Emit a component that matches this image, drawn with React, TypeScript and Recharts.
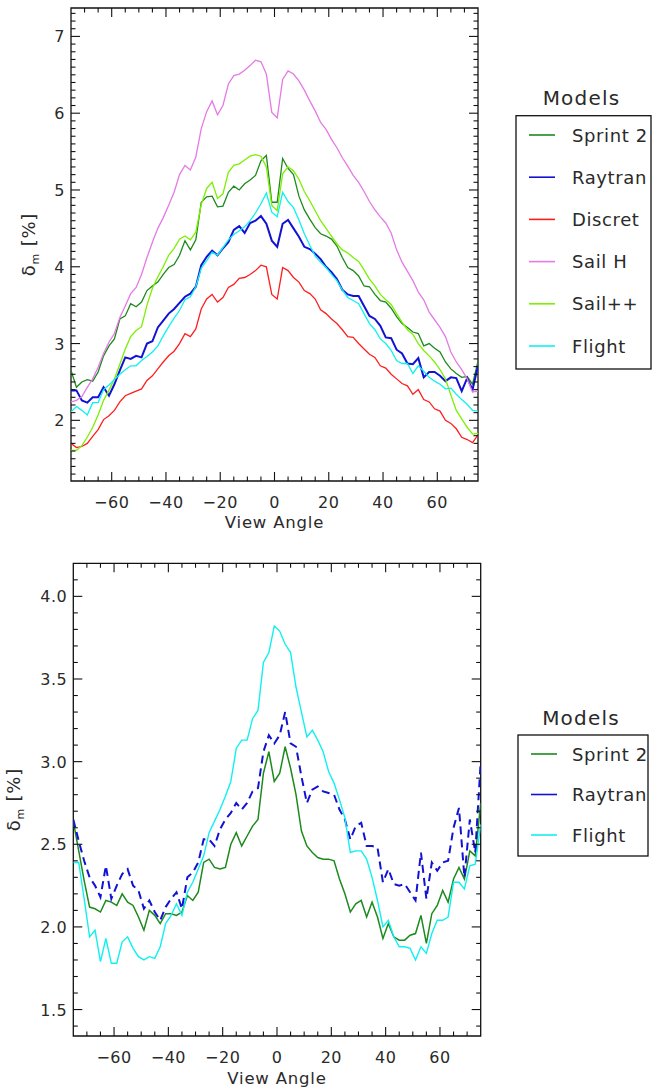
import React from 'react';
import { LineChart, Line, XAxis, YAxis, ReferenceArea, Legend } from 'recharts';

// View angles (degrees) shared by every model run
const angles = [
  -75, -73, -71, -69, -67, -65, -63, -61, -59, -57,
  -55, -53, -51, -49, -47, -45, -43, -41, -39, -37,
  -35, -33, -31, -29, -27, -25, -23, -21, -19, -17,
  -15, -13, -11, -9, -7, -5, -3, -1, 1, 3,
  5, 7, 9, 11, 13, 15, 17, 19, 21, 23,
  25, 27, 29, 31, 33, 35, 37, 39, 41, 43,
  45, 47, 49, 51, 53, 55, 57, 59, 61, 63,
  65, 67, 69, 71, 73, 75,
];

// ---- Upper panel: delta_m [%] per model ----
const sprintTop = [
  2.65, 2.43, 2.50, 2.53, 2.51, 2.63, 2.84, 2.97, 3.06, 3.32,
  3.36, 3.52, 3.48, 3.54, 3.69, 3.75, 3.80, 3.90, 3.99, 4.03,
  4.15, 4.34, 4.22, 4.35, 4.84, 4.91, 4.92, 4.78, 4.79, 4.97,
  5.05, 5.00, 5.08, 5.13, 5.19, 5.38, 5.45, 4.84, 4.84, 5.41,
  5.28, 5.20, 4.92, 4.74, 4.62, 4.51, 4.43, 4.40, 4.36, 4.27,
  4.12, 3.99, 3.95, 3.88, 3.75, 3.74, 3.64, 3.56, 3.54, 3.46,
  3.35, 3.26, 3.21, 3.15, 3.13, 2.97, 3.00, 2.94, 2.89, 2.76,
  2.67, 2.61, 2.56, 2.57, 2.47, 2.77,
];
const raytranTop = [
  2.39, 2.39, 2.26, 2.23, 2.30, 2.30, 2.43, 2.32, 2.47, 2.65,
  2.82, 2.80, 2.84, 2.82, 3.00, 3.03, 3.21, 3.30, 3.39, 3.45,
  3.53, 3.61, 3.65, 3.74, 4.02, 4.13, 4.21, 4.15, 4.24, 4.32,
  4.48, 4.53, 4.44, 4.57, 4.60, 4.66, 4.56, 4.34, 4.26, 4.56,
  4.61, 4.50, 4.39, 4.26, 4.23, 4.17, 4.10, 4.00, 3.93, 3.84,
  3.70, 3.64, 3.62, 3.62, 3.49, 3.36, 3.32, 3.23, 3.08, 3.07,
  2.92, 2.87, 2.74, 2.73, 2.81, 2.56, 2.63, 2.63, 2.58, 2.51,
  2.56, 2.55, 2.38, 2.55, 2.40, 2.71,
];
const discretTop = [
  1.70, 1.645, 1.66, 1.70, 1.79, 1.88, 2.01, 2.06, 2.13, 2.24,
  2.32, 2.35, 2.38, 2.41, 2.52, 2.58, 2.67, 2.76, 2.84, 2.90,
  3.00, 3.13, 3.09, 3.19, 3.45, 3.58, 3.64, 3.54, 3.60, 3.73,
  3.77, 3.85, 3.86, 3.90, 3.95, 4.02, 4.00, 3.64, 3.58, 3.99,
  3.95, 3.86, 3.80, 3.69, 3.65, 3.58, 3.44, 3.39, 3.32, 3.26,
  3.18, 3.09, 3.08, 3.00, 2.93, 2.86, 2.82, 2.71, 2.68, 2.60,
  2.54, 2.48, 2.45, 2.34, 2.40, 2.27, 2.24, 2.15, 2.12, 2.00,
  1.96, 1.89, 1.78, 1.75, 1.71, 1.81,
];
const sailHTop = [
  2.24, 2.26, 2.31, 2.43, 2.54, 2.69, 2.87, 3.02, 3.13, 3.34,
  3.49, 3.65, 3.73, 3.90, 4.12, 4.32, 4.50, 4.64, 4.80, 4.97,
  5.20, 5.32, 5.26, 5.43, 5.80, 6.02, 6.16, 5.98, 6.10, 6.38,
  6.49, 6.51, 6.56, 6.62, 6.69, 6.67, 6.51, 6.01, 5.94, 6.44,
  6.55, 6.51, 6.42, 6.30, 6.16, 6.03, 5.88, 5.79, 5.66, 5.55,
  5.42, 5.31, 5.19, 5.10, 4.98, 4.85, 4.74, 4.65, 4.57, 4.44,
  4.22, 4.06, 3.94, 3.82, 3.67, 3.57, 3.41, 3.31, 3.21, 3.09,
  2.89, 2.76, 2.66, 2.54, 2.37, 2.38,
];
const sailPPTop = [
  1.61, 1.61, 1.67, 1.78, 1.91, 2.07, 2.26, 2.39, 2.54, 2.73,
  2.93, 3.09, 3.17, 3.22, 3.50, 3.72, 3.87, 4.00, 4.15, 4.24,
  4.36, 4.40, 4.35, 4.45, 4.81, 5.02, 5.10, 4.89, 4.95, 5.23,
  5.32, 5.34, 5.39, 5.44, 5.46, 5.44, 5.30, 4.80, 4.73, 5.21,
  5.30, 5.25, 5.14, 4.98, 4.86, 4.73, 4.60, 4.50, 4.40, 4.30,
  4.22, 4.18, 4.12, 4.07, 3.96, 3.84, 3.75, 3.64, 3.57, 3.51,
  3.39, 3.28, 3.18, 3.12, 3.00, 2.91, 2.84, 2.76, 2.66, 2.54,
  2.33, 2.13, 2.02, 1.91, 1.82, 1.83,
];
const flightTop = [
  2.11, 2.18, 2.13, 2.07, 2.23, 2.23, 2.40, 2.46, 2.53, 2.60,
  2.66, 2.71, 2.71, 2.78, 2.83, 2.89, 2.97, 3.10, 3.22, 3.33,
  3.43, 3.57, 3.61, 3.74, 3.98, 4.08, 4.19, 4.15, 4.25, 4.35,
  4.42, 4.47, 4.52, 4.60, 4.70, 4.82, 4.96, 4.71, 4.65, 4.97,
  4.85, 4.77, 4.61, 4.43, 4.28, 4.14, 4.06, 3.99, 3.90, 3.82,
  3.70, 3.60, 3.56, 3.52, 3.39, 3.26, 3.18, 3.06, 3.00, 2.91,
  2.78, 2.74, 2.74, 2.61, 2.71, 2.64, 2.56, 2.51, 2.47, 2.41,
  2.42, 2.34, 2.27, 2.21, 2.13, 2.12,
];

// ---- Lower panel ----
const sprintBottom = [
  2.64, 2.46, 2.28, 2.12, 2.11, 2.09, 2.16, 2.15, 2.13, 2.20,
  2.15, 2.13, 2.06, 1.98, 2.10, 2.07, 2.02, 2.08, 2.08, 2.07,
  2.09, 2.19, 2.16, 2.21, 2.39, 2.41, 2.36, 2.35, 2.36, 2.50,
  2.57, 2.49, 2.55, 2.61, 2.65, 2.93, 3.06, 2.88, 2.93, 3.09,
  2.96, 2.80, 2.58, 2.49, 2.45, 2.42, 2.41, 2.41, 2.40, 2.29,
  2.20, 2.09, 2.14, 2.16, 2.06, 2.15, 2.06, 1.93, 2.02, 1.94,
  1.92, 1.92, 1.95, 1.96, 2.07, 1.90, 2.08, 2.13, 2.22, 2.15,
  2.29, 2.36, 2.29, 2.46, 2.43, 2.75,
];
const raytranBottom = [
  2.65, 2.52, 2.40, 2.30, 2.25, 2.18, 2.37, 2.17, 2.25, 2.32,
  2.35, 2.25, 2.22, 2.11, 2.16, 2.09, 2.04, 2.12, 2.17, 2.21,
  2.11, 2.30, 2.33, 2.39, 2.53, 2.53, 2.49, 2.59, 2.65, 2.69,
  2.75, 2.71, 2.75, 2.82, 2.84, 3.06, 3.16, 3.11, 3.16, 3.30,
  3.11, 3.09, 2.91, 2.75, 2.83, 2.85, 2.82, 2.81, 2.80, 2.71,
  2.65, 2.53, 2.61, 2.63, 2.49, 2.49, 2.48, 2.27, 2.35, 2.26,
  2.25, 2.26, 2.21, 2.16, 2.45, 2.17, 2.39, 2.34, 2.39, 2.40,
  2.60, 2.72, 2.30, 2.65, 2.45, 3.00,
];
const flightBottom = [
  2.39, 2.39, 2.17, 1.94, 1.98, 1.79, 1.93, 1.78, 1.78, 1.91,
  1.94, 1.87, 1.82, 1.80, 1.82, 1.81, 1.88, 2.02, 2.07, 2.14,
  2.07, 2.21, 2.27, 2.35, 2.43, 2.57, 2.64, 2.71, 2.79, 2.88,
  3.08, 3.13, 3.13, 3.26, 3.31, 3.60, 3.66, 3.82, 3.79, 3.71,
  3.66, 3.45, 3.30, 3.15, 3.19, 3.13, 3.06, 2.94, 2.87, 2.77,
  2.66, 2.45, 2.46, 2.46, 2.41, 2.30, 2.16, 2.00, 2.04, 1.94,
  1.88, 1.88, 1.87, 1.80, 1.88, 1.84, 1.96, 2.04, 2.04, 2.06,
  2.27, 2.27, 2.23, 2.37, 2.38, 2.62,
];

// Axis ticks and labels
const xMajorTicks = [-60, -40, -20, 0, 20, 40, 60];
const xMinorTicks = [-70, -65, -55, -50, -45, -35, -30, -25, -15, -10, -5, 5, 10, 15, 25, 30, 35, 45, 50, 55, 65, 70];
const topYLabels = [2, 3, 4, 5, 6, 7];
const bottomYLabels = [1.5, 2.0, 2.5, 3.0, 3.5, 4.0];
const topModels = ['Sprint 2', 'Raytran', 'Discret', 'Sail H', 'Sail++', 'Flight'];
const bottomModels = ['Sprint 2', 'Raytran', 'Flight'];
const legendTitle = 'Models';
const xTitle = 'View Angle';

const topDomain: [number, number] = [1.21, 7.37];
const bottomDomain: [number, number] = [1.34, 4.2];

const COLORS = {
  sprint: '#1c8a1c',
  raytran: '#1212d4',
  discret: '#ff1e1e',
  sailH: '#e57ae5',
  sailPP: '#7cf000',
  flight: '#10f0f0',
};

const FONT = "'DejaVu Sans', sans-serif";
const TXT = '#2a2a2a';
const AX = '#111';

const xTicks = [...xMajorTicks, ...xMinorTicks].sort((a, b) => a - b);
const tenths = (lo: number, hi: number) => {
  const out: number[] = [];
  for (let k = Math.round(lo * 10); k <= Math.round(hi * 10); k++) out.push(k / 10);
  return out;
};
const topYTicks = tenths(1.3, 7.3);
const bottomYTicks = tenths(1.4, 4.1);

const topData = angles.map((a, i) => ({
  angle: a,
  sprint: sprintTop[i],
  raytran: raytranTop[i],
  discret: discretTop[i],
  sailH: sailHTop[i],
  sailPP: sailPPTop[i],
  flight: flightTop[i],
}));
const bottomData = angles.map((a, i) => ({
  angle: a,
  sprint: sprintBottom[i],
  raytran: raytranBottom[i],
  flight: flightBottom[i],
}));

const fmtAngle = (v: number) => (v < 0 ? `\u2212${Math.abs(v)}` : `${v}`);

// Axis bands reserved outside the plot area
const X_BAND = 50;
const Y_BAND = 50;

// Box-style axes: ticks point inward on all four sides.
// With tickSize/tickMargin = 0 the tick anchor sits on the axis line.
const makeXTick = (plotH: number) => (props: any) => {
  const { x, y, payload } = props;
  const v = payload.value as number;
  const major = xMajorTicks.includes(v);
  const len = major ? 9 : 4.5;
  return (
    <g>
      <line x1={x} x2={x} y1={y} y2={y - len} stroke={AX} strokeWidth={1.1} />
      <line x1={x} x2={x} y1={y - plotH} y2={y - plotH + len} stroke={AX} strokeWidth={1.1} />
      {major && (
        <text x={x} y={y + 27} textAnchor="middle" fontFamily={FONT} fontSize={16} fill={TXT} letterSpacing={0.5}>
          {fmtAngle(v)}
        </text>
      )}
    </g>
  );
};

const makeYTick = (plotW: number, labels: number[], digits: number) => (props: any) => {
  const { x, y, payload } = props;
  const v = payload.value as number;
  const major = labels.some((l) => Math.abs(l - v) < 1e-6);
  const len = major ? 9 : 4.5;
  return (
    <g>
      <line x1={x} x2={x + len} y1={y} y2={y} stroke={AX} strokeWidth={1.1} />
      <line x1={x + plotW} x2={x + plotW - len} y1={y} y2={y} stroke={AX} strokeWidth={1.1} />
      {major && (
        <text x={x - 6} y={y + 6} textAnchor="end" fontFamily={FONT} fontSize={16} fill={TXT} letterSpacing={0.5}>
          {v.toFixed(digits)}
        </text>
      )}
    </g>
  );
};

const xTitleLabel = (dy: number) => ({
  content: (p: any) => {
    const vb = p.viewBox || {};
    return (
      <text x={vb.x + vb.width / 2} y={vb.y + dy} textAnchor="middle" fontFamily={FONT} fontSize={16.5} fill={TXT} letterSpacing={0.8}>
        {xTitle}
      </text>
    );
  },
});

const yTitleLabel = (dx: number) => ({
  content: (p: any) => {
    const vb = p.viewBox || {};
    const cx = vb.x + vb.width - dx;
    const cy = vb.y + vb.height / 2;
    return (
      <text x={cx} y={cy} transform={`rotate(-90 ${cx} ${cy})`} textAnchor="middle" fontFamily={FONT} fontSize={18} fill={TXT} letterSpacing={0.8}>
        <tspan>δ</tspan>
        <tspan fontSize={11} dy={4}>m</tspan>
        <tspan dy={-4}>{' [%]'}</tspan>
      </text>
    );
  },
});

const makeLegend = (
  order: string[],
  cfg: { boxW: number; boxTop: number; boxH: number; titleY: number; firstRow: number; rowStep: number; textX: number },
) =>
  (props: any) => {
    const items = ((props.payload || []) as any[])
      .slice()
      .sort((a, b) => order.indexOf(a.value) - order.indexOf(b.value));
    return (
      <svg width={160} height={cfg.boxTop + cfg.boxH + 4} style={{ display: 'block', overflow: 'visible' }}>
        <text x={6 + cfg.boxW / 2 - 2} y={cfg.titleY} textAnchor="middle" fontFamily={FONT} fontSize={20} fill={TXT} letterSpacing={1.2}>
          {legendTitle}
        </text>
        <rect x={6} y={cfg.boxTop} width={cfg.boxW} height={cfg.boxH} fill="none" stroke={AX} strokeWidth={1.3} />
        {items.map((it, i) => {
          const cy = cfg.firstRow + i * cfg.rowStep;
          return (
            <g key={`${it.value}`}>
              <line x1={19} x2={45} y1={cy} y2={cy} stroke={it.color} strokeWidth={1.6} />
              <text x={cfg.textX} y={cy + 6.5} fontFamily={FONT} fontSize={18} fill={TXT} letterSpacing={0.6}>
                {it.value}
              </text>
            </g>
          );
        })}
      </svg>
    );
  };

const TOP_MARGIN = { top: 8, right: 185, bottom: 64 - X_BAND, left: 71 - Y_BAND };
const BOT_MARGIN = { top: 18.3, right: 182.3, bottom: 54 - X_BAND, left: 73.3 - Y_BAND };
const CH_W = 663;
const CH_H = 545;

const topPlotH = CH_H - 8 - 64;
const topPlotW = CH_W - 71 - 185;
const botPlotH = CH_H - 18.3 - 54;
const botPlotW = CH_W - 73.3 - 182.3;

export default function App() {
  return (
    <div style={{ position: 'absolute', left: 0, top: 0, width: 663, height: 1090, background: '#fff' }}>
      <div style={{ position: 'absolute', left: 0, top: 0 }}>
        <LineChart width={CH_W} height={CH_H} data={topData} margin={TOP_MARGIN}>
          <XAxis
            dataKey="angle"
            type="number"
            domain={[-75, 75]}
            ticks={xTicks}
            interval={0}
            allowDataOverflow
            height={X_BAND}
            tickSize={0}
            tickMargin={0}
            axisLine={false}
            tickLine={false}
            tick={makeXTick(topPlotH)}
            label={xTitleLabel(47)}
          />
          <YAxis
            type="number"
            domain={topDomain}
            ticks={topYTicks}
            interval={0}
            allowDataOverflow
            width={Y_BAND}
            tickSize={0}
            tickMargin={0}
            axisLine={false}
            tickLine={false}
            tick={makeYTick(topPlotW, topYLabels, 0)}
            label={yTitleLabel(36)}
          />
          <ReferenceArea x1={-75} x2={75} y1={topDomain[0]} y2={topDomain[1]} fill="none" fillOpacity={0} stroke={AX} strokeWidth={1.3} ifOverflow="visible" />
          <Line dataKey="sprint" name={topModels[0]} stroke={COLORS.sprint} strokeWidth={1.3} dot={false} isAnimationActive={false} />
          <Line dataKey="raytran" name={topModels[1]} stroke={COLORS.raytran} strokeWidth={2} dot={false} isAnimationActive={false} />
          <Line dataKey="discret" name={topModels[2]} stroke={COLORS.discret} strokeWidth={1.3} dot={false} isAnimationActive={false} />
          <Line dataKey="sailH" name={topModels[3]} stroke={COLORS.sailH} strokeWidth={1.3} dot={false} isAnimationActive={false} />
          <Line dataKey="sailPP" name={topModels[4]} stroke={COLORS.sailPP} strokeWidth={1.3} dot={false} isAnimationActive={false} />
          <Line dataKey="flight" name={topModels[5]} stroke={COLORS.flight} strokeWidth={1.3} dot={false} isAnimationActive={false} />
          <Legend
            layout="horizontal"
            verticalAlign="middle"
            align="center"
            wrapperStyle={{ position: 'absolute', left: 510, top: 80, width: 160, height: 300 }}
            content={makeLegend(topModels, { boxW: 135, boxTop: 35.7, boxH: 253.3, titleY: 25, firstRow: 55, rowStep: 42.2, textX: 62 })}
          />
        </LineChart>
      </div>
      <div style={{ position: 'absolute', left: 0, top: 545 }}>
        <LineChart width={CH_W} height={CH_H} data={bottomData} margin={BOT_MARGIN}>
          <XAxis
            dataKey="angle"
            type="number"
            domain={[-75, 75]}
            ticks={xTicks}
            interval={0}
            allowDataOverflow
            height={X_BAND}
            tickSize={0}
            tickMargin={0}
            axisLine={false}
            tickLine={false}
            tick={makeXTick(botPlotH)}
            label={xTitleLabel(48)}
          />
          <YAxis
            type="number"
            domain={bottomDomain}
            ticks={bottomYTicks}
            interval={0}
            allowDataOverflow
            width={Y_BAND}
            tickSize={0}
            tickMargin={0}
            axisLine={false}
            tickLine={false}
            tick={makeYTick(botPlotW, bottomYLabels, 1)}
            label={yTitleLabel(53)}
          />
          <ReferenceArea x1={-75} x2={75} y1={bottomDomain[0]} y2={bottomDomain[1]} fill="none" fillOpacity={0} stroke={AX} strokeWidth={1.3} ifOverflow="visible" />
          <Line dataKey="sprint" name={bottomModels[0]} stroke={COLORS.sprint} strokeWidth={1.5} dot={false} isAnimationActive={false} />
          <Line dataKey="raytran" name={bottomModels[1]} stroke={COLORS.raytran} strokeWidth={2} strokeDasharray="8 5" dot={false} isAnimationActive={false} />
          <Line dataKey="flight" name={bottomModels[2]} stroke={COLORS.flight} strokeWidth={1.4} dot={false} isAnimationActive={false} />
          <Legend
            layout="horizontal"
            verticalAlign="middle"
            align="center"
            wrapperStyle={{ position: 'absolute', left: 512, top: 160, width: 160, height: 160 }}
            content={makeLegend(bottomModels, { boxW: 130, boxTop: 30, boxH: 121, titleY: 20, firstRow: 49, rowStep: 40.5, textX: 60 })}
          />
        </LineChart>
      </div>
    </div>
  );
}
